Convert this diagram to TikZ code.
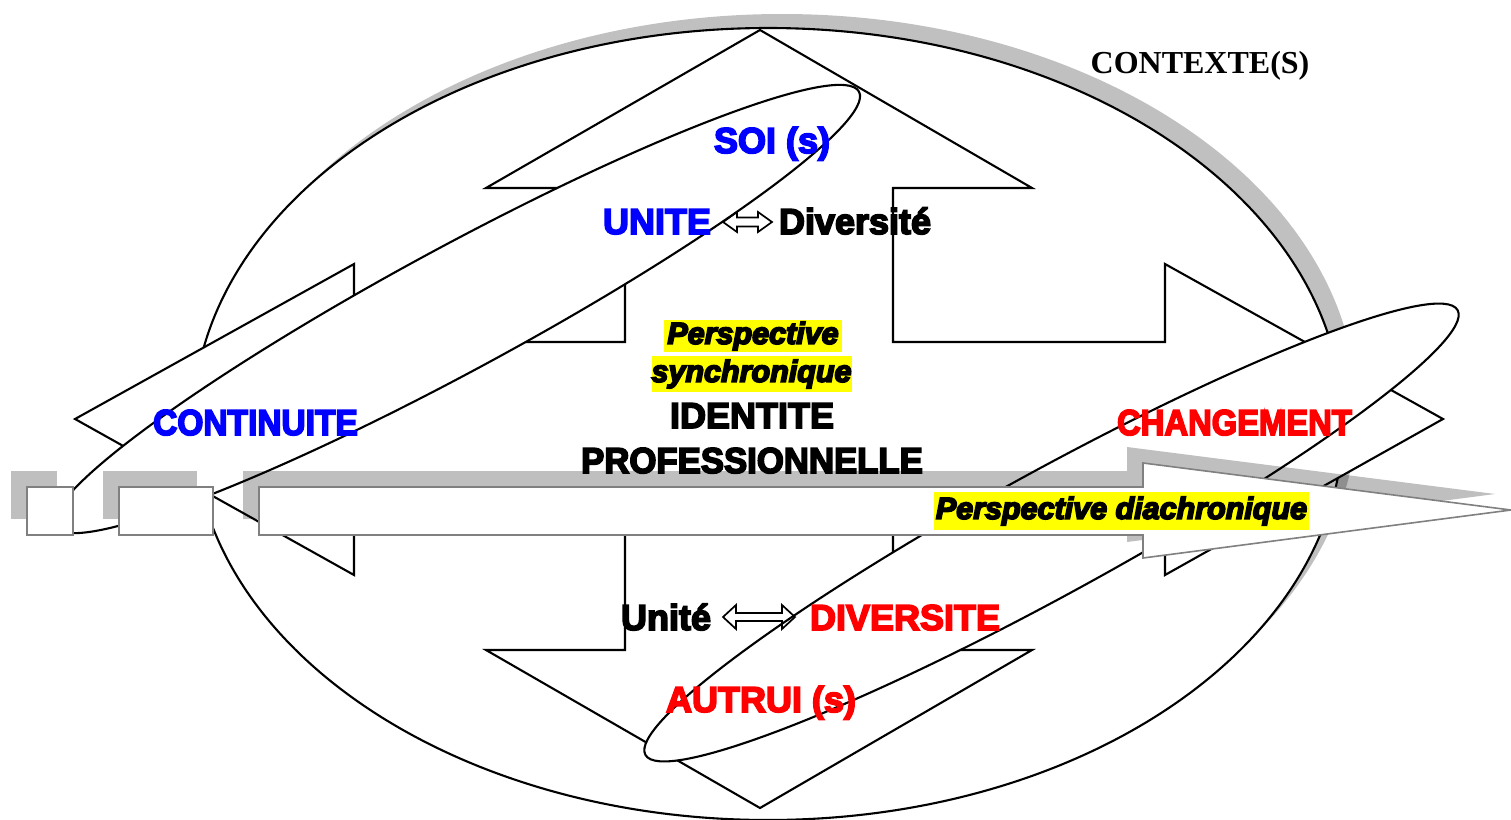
\documentclass[tikz,border=0pt]{standalone}
\usepackage{fontspec}
\newfontfamily\arialfont{Liberation Sans}
\newfontfamily\seriffont{Liberation Serif}
\definecolor{shadowgray}{HTML}{C0C0C0}
\definecolor{outlinegray}{HTML}{808080}
\definecolor{hlyellow}{HTML}{FFFF00}
\definecolor{tblue}{HTML}{0000FF}
\definecolor{tred}{HTML}{FF0000}
\newcommand\heavytext[1]{\special{pdf:code 2 Tr 1.7 w}#1\special{pdf:code 0 Tr}}
\tikzset{
  bline/.style={draw=black, line width=2.1pt, line join=miter},
  gline/.style={draw=outlinegray, line width=1.6pt, line join=miter},
  shadowfill/.style={fill=black, fill opacity=0.25},
  lbl/.style={font=\arialfont\bfseries\fontsize{36}{42}\selectfont, inner sep=0pt, anchor=base},
  hl/.style={font=\arialfont\bfseries\itshape\fontsize{30.5}{36}\selectfont, inner sep=0pt, fill=hlyellow, text=black},
  ttl/.style={font=\seriffont\bfseries\fontsize{32}{38}\selectfont, inner sep=0pt, anchor=base}
}
\begin{document}
\begin{tikzpicture}[x=1pt,y=-1pt]
\useasboundingbox (0,0) rectangle (1511,819);
% context ellipse with shadow
\fill[shadowgray] (782,410) ellipse [x radius=575pt, y radius=396pt];
\draw[bline, fill=white] (768,424) ellipse [x radius=575pt, y radius=396pt];
% four-way cross
\draw[bline, fill=white] (760,30) -- (1032,188) -- (893,188) -- (893,342) -- (1165,342) -- (1165,264) -- (1443,419) -- (1165,575) -- (1165,497) -- (893,497) -- (893,650) -- (1032,650) -- (760,808) -- (486,650) -- (625,650) -- (625,497) -- (354,497) -- (354,575) -- (75,419) -- (354,264) -- (354,342) -- (625,342) -- (625,188) -- (486,188) -- cycle;
% thin ellipses
\draw[bline, fill=white, rotate around={28.4:(457,309)}] (457,309) ellipse [x radius=457pt, y radius=62pt];
\draw[bline, fill=white, rotate around={28.7:(1051.5,532.5)}] (1051.5,532.5) ellipse [x radius=463pt, y radius=62pt];
% big horizontal arrow with shadow
\fill[shadowfill] (243,471) -- (1127,471) -- (1127,447) -- (1495,494) -- (1127,542) -- (1127,519) -- (243,519) -- cycle;
\draw[gline, fill=white] (259,487) -- (1143,487) -- (1143,463) -- (1511,510) -- (1143,558) -- (1143,535) -- (259,535) -- cycle;
% small boxes
\fill[shadowfill] (11,471) rectangle (57,519);
\draw[gline, fill=white] (27,487) rectangle (73,535);
\fill[shadowfill] (103,471) rectangle (197,519);
\draw[gline, fill=white] (119,487) rectangle (213,535);
% double arrows
\draw[line width=1.7pt, line join=miter] (723,222) -- (737,212) -- (737,217.5) -- (758,217.5) -- (758,212) -- (772,222) -- (758,232) -- (758,226.5) -- (737,226.5) -- (737,232) -- cycle;
\draw[line width=1.7pt, line join=miter] (723,617) -- (736,605) -- (736,613) -- (782,613) -- (782,605) -- (795,617) -- (782,629) -- (782,621) -- (736,621) -- (736,629) -- cycle;
% texts
\node[ttl] (ctx) at (1200,73) {CONTEXTE(S)};
\node[lbl, text=tblue] (soi) at (772,153) {\heavytext{SOI (s)}};
\node[lbl, text=tblue] (unite) at (657,234) {\heavytext{UNITE}};
\node[lbl] (div1) at (855,234) {\heavytext{Diversité}};
\node[hl, minimum width=178pt, minimum height=32pt] (ps1) at (753,336) {\heavytext{Perspective}};
\node[hl, minimum width=199pt, minimum height=36pt] (ps2) at (751.5,374) {\heavytext{synchronique}};
\node[lbl] (id1) at (752,428) {\heavytext{IDENTITE}};
\node[lbl] (id2) at (752,473) {\heavytext{\scalebox{0.965}[1]{PROFESSIONNELLE}}};
\node[lbl, text=tblue] (cont) at (255.5,435) {\heavytext{\scalebox{0.93}[1]{CONTINUITE}}};
\node[lbl, text=tred] (chg) at (1234.5,435) {\heavytext{\scalebox{0.91}[1]{CHANGEMENT}}};
\node[hl, minimum width=375pt, minimum height=38pt] (pd) at (1121.5,511) {\heavytext{Perspective diachronique}};
\node[lbl] (unite2) at (666,630) {\heavytext{Unité}};
\node[lbl, text=tred] (div2) at (905,630) {\heavytext{DIVERSITE}};
\node[lbl, text=tred] (aut) at (761,712) {\heavytext{AUTRUI (s)}};
\end{tikzpicture}
\end{document}
